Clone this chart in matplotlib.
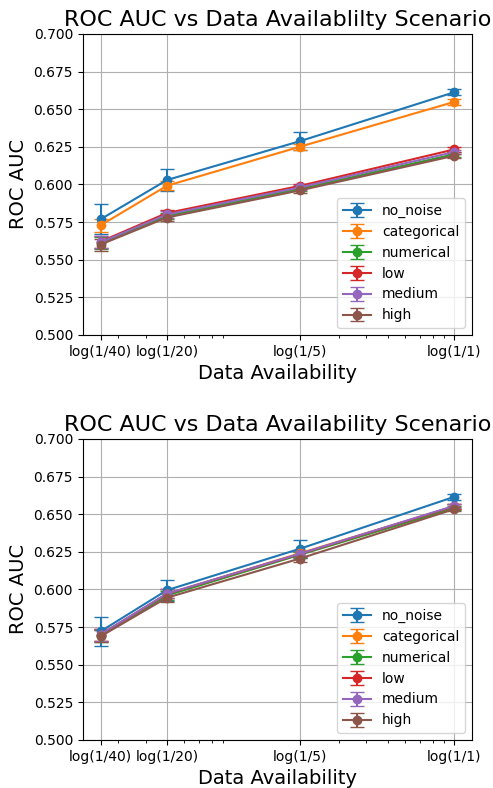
import matplotlib
matplotlib.use('Agg')
import matplotlib.pyplot as plt

# data availability fractions
x = [1/40, 1/20, 1/5, 1/1]
x_labels = ['log(1/40)', 'log(1/20)', 'log(1/5)', 'log(1/1)']
names = ['no_noise', 'categorical', 'numerical', 'low', 'medium', 'high']

# top plot: mean and std per scenario
top_no_noise = [0.5768, 0.6029, 0.6287, 0.6612]
top_categorical = [0.5728, 0.5991, 0.6250, 0.6548]
top_numerical = [0.5610, 0.5790, 0.5970, 0.6200]
top_low = [0.5620, 0.5810, 0.5990, 0.6232]
top_medium = [0.5615, 0.5800, 0.5980, 0.6215]
top_high = [0.5600, 0.5780, 0.5960, 0.6190]

top_no_noise_err = [0.0100, 0.0072, 0.0060, 0.0020]
top_categorical_err = [0.0044, 0.0030, 0.0020, 0.0020]
top_numerical_err = [0.0040, 0.0022, 0.0015, 0.0015]
top_low_err = [0.0040, 0.0022, 0.0015, 0.0015]
top_medium_err = [0.0040, 0.0022, 0.0015, 0.0015]
top_high_err = [0.0040, 0.0022, 0.0015, 0.0015]

# bottom plot
bot_no_noise = [0.5721, 0.5995, 0.6270, 0.6615]
bot_categorical = [0.5700, 0.5970, 0.6240, 0.6550]
bot_numerical = [0.5690, 0.5960, 0.6230, 0.6540]
bot_low = [0.5700, 0.5970, 0.6235, 0.6552]
bot_medium = [0.5700, 0.5972, 0.6237, 0.6555]
bot_high = [0.5688, 0.5945, 0.6205, 0.6533]

bot_no_noise_err = [0.0095, 0.0070, 0.0058, 0.0020]
bot_categorical_err = [0.0040, 0.0030, 0.0020, 0.0015]
bot_numerical_err = [0.0040, 0.0030, 0.0020, 0.0015]
bot_low_err = [0.0040, 0.0030, 0.0020, 0.0015]
bot_medium_err = [0.0040, 0.0030, 0.0020, 0.0015]
bot_high_err = [0.0040, 0.0030, 0.0020, 0.0015]

top_means = [top_no_noise, top_categorical, top_numerical, top_low, top_medium, top_high]
top_errs = [top_no_noise_err, top_categorical_err, top_numerical_err, top_low_err, top_medium_err, top_high_err]
bot_means = [bot_no_noise, bot_categorical, bot_numerical, bot_low, bot_medium, bot_high]
bot_errs = [bot_no_noise_err, bot_categorical_err, bot_numerical_err, bot_low_err, bot_medium_err, bot_high_err]

fig = plt.figure(figsize=(4.93, 7.88), dpi=100)
ax1 = fig.add_axes([0.168, 0.575, 0.789, 0.382])
ax2 = fig.add_axes([0.168, 0.061, 0.789, 0.382])

panels = [
    (ax1, top_means, top_errs, 'ROC AUC vs Data Availablilty Scenario'),
    (ax2, bot_means, bot_errs, 'ROC AUC vs Data Availability Scenario'),
]

for ax, means, errs, title in panels:
    for name, m, e in zip(names, means, errs):
        ax.errorbar(x, m, yerr=e, marker='o', capsize=5, label=name)
    ax.set_xscale('log')
    ax.set_xticks(x)
    ax.set_xticklabels(x_labels)
    ax.set_ylim(0.5, 0.7)
    ax.set_title(title, fontsize=16)
    ax.set_xlabel('Data Availability', fontsize=14)
    ax.set_ylabel('ROC AUC', fontsize=14)
    ax.grid(True)
    ax.legend(loc='lower right')

fig.savefig('out.png', dpi=100)
